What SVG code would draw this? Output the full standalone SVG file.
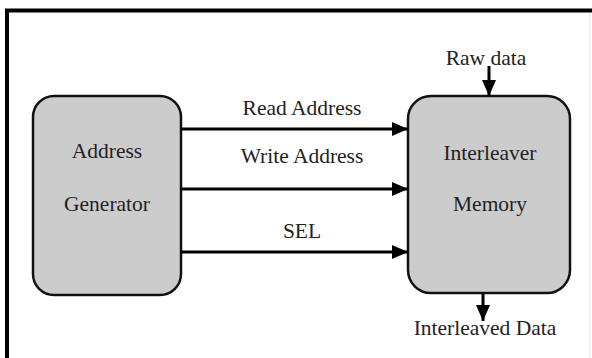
<svg xmlns="http://www.w3.org/2000/svg" width="592" height="358" viewBox="0 0 592 358">
<style>
.box{fill:#cdcccd;stroke:#111;stroke-width:2.5}
.t{font-family:"Liberation Serif","Times New Roman",serif;font-size:21.5px;fill:#222;text-anchor:middle}
.c{stroke:#000;stroke-width:3;fill:none}
</style>
<defs>
<marker id="ah" markerWidth="16" markerHeight="14" refX="16" refY="7" orient="auto" markerUnits="userSpaceOnUse">
<path d="M0,0 L16,7 L0,14 Z" fill="#000"/>
</marker>
</defs>
<rect width="592" height="358" fill="#fff"/>
<g id="frame">
<path d="M7,358 V10.5 H592" fill="none" stroke="#000" stroke-width="4"/>
<line x1="590" y1="13" x2="590" y2="358" stroke="#e4e4e4" stroke-width="1"/>
</g>
<g id="addr-gen">
<rect class="box" x="33" y="96" width="148" height="199" rx="21" ry="21"/>
<text class="t" x="107" y="158">Address</text>
<text class="t" x="107" y="211">Generator</text>
</g>
<g id="mem">
<rect class="box" x="408" y="96" width="162" height="197" rx="23" ry="23"/>
<text class="t" x="490" y="160">Interleaver</text>
<text class="t" x="490" y="211">Memory</text>
</g>
<g id="connectors">
<line class="c" x1="181" y1="129" x2="408" y2="129" marker-end="url(#ah)"/>
<line class="c" x1="181" y1="189" x2="408" y2="189" marker-end="url(#ah)"/>
<line class="c" x1="181" y1="252" x2="408" y2="252" marker-end="url(#ah)"/>
<line class="c" x1="489" y1="66" x2="489" y2="96" marker-end="url(#ah)"/>
<line class="c" x1="483" y1="293" x2="483" y2="321" marker-end="url(#ah)"/>
</g>
<g id="labels">
<text class="t" x="302" y="115">Read Address</text>
<text class="t" x="302" y="163">Write Address</text>
<text class="t" x="302" y="238">SEL</text>
<text class="t" x="486" y="65">Raw data</text>
<text class="t" x="485" y="335">Interleaved Data</text>
</g>
</svg>
